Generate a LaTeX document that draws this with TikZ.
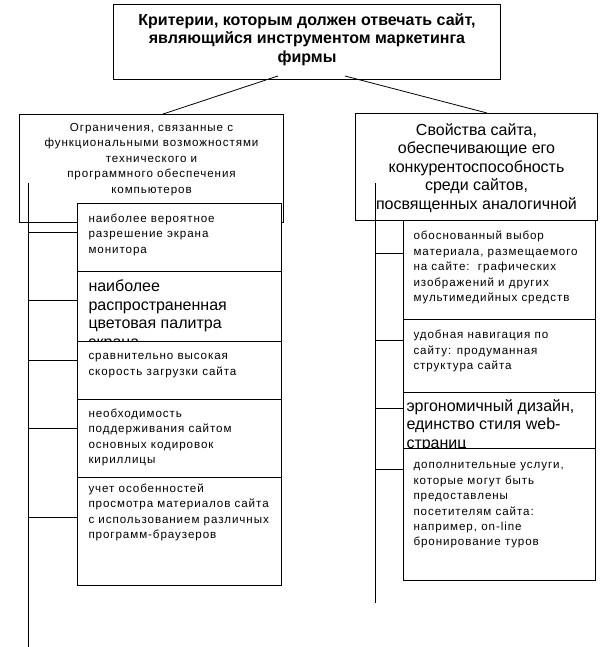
\documentclass[tikz,border=0pt]{standalone}
\usepackage{fontspec}
\setmainfont{Liberation Sans}
\newfontfamily\spacedsans[LetterSpace=8]{Liberation Sans}
\newcommand\fsmall{\spacedsans\fontsize{11.6pt}{15.4pt}\selectfont}
\newcommand\fbig{\fontsize{16pt}{18.4pt}\selectfont}
\newcommand\ftitle{\bfseries\fontsize{16pt}{18.4pt}\selectfont}
% #1 width, #2 height, #3 left pad, #4 first baseline offset, #5 font, #6 text
\newcommand\lcell[6]{\parbox[t][#2pt][t]{#1pt}{#5\raggedright\leftskip=#3pt\relax\rule{0pt}{#4pt}#6\par}}
% #1 width, #2 height, #3 first baseline offset, #4 font, #5 text
\newcommand\ccell[5]{\parbox[t][#2pt][t]{#1pt}{#4\centering\rule{0pt}{#3pt}#5\par}}
\tikzset{
  boxnode/.style={draw, line width=1pt, fill=white, inner sep=0pt, anchor=north west},
  link/.style={line width=1pt},
  thinlink/.style={line width=0.8pt}
}
\begin{document}
\begin{tikzpicture}[x=1pt,y=-1pt]
\useasboundingbox[fill=white] (0,0) rectangle (604,647);

% title and headers
\node[boxnode] (title) at (113,4) {\ccell{387}{75}{21}{\ftitle}{Критерии, которым должен отвечать сайт,\\ являющийся инструментом маркетинга\\ фирмы}};
\node[boxnode] (lh) at (19,114) {\ccell{264}{108}{17}{\fsmall}{Ограничения, связанные с\\ функциональными возможностями\\ технического и\\ программного обеспечения\\ компьютеров}};
\node[boxnode] (rh) at (355,113) {\ccell{242}{107}{22}{\fbig}{Свойства сайта,\\ обеспечивающие его\\ конкурентоспособность\\ среди сайтов,\\ посвященных аналогичной}};

\coordinate (ta) at (278,76);
\coordinate (tb) at (345,76);
\coordinate (la) at (163,114);
\coordinate (ra) at (487,113);
\draw[thinlink] (ta) -- (la);
\draw[thinlink] (tb) -- (ra);

% brackets
\coordinate (lbt) at (28,183);
\coordinate (lbb) at (28,647);
\coordinate (rbt) at (375,183);
\coordinate (rbb) at (375,603);
\draw[link] (lbt) -- (lbb);
\draw[link] (rbt) -- (rbb);

% left items
\node[boxnode] (l1) at (77,203) {\lcell{204}{68}{11}{18.7}{\fsmall}{наиболее вероятное\\ разрешение экрана\\ монитора}};
\node[boxnode] (l2) at (77,271) {\lcell{204}{70}{11}{20.3}{\fbig}{наиболее\\ распространенная\\ цветовая палитра\\ экрана}};
\node[boxnode] (l3) at (77,341) {\lcell{204}{58}{11}{18.3}{\fsmall}{сравнительно высокая\\ скорость загрузки сайта}};
\node[boxnode] (l4) at (77,399) {\lcell{204}{78}{11}{17.7}{\fsmall}{необходимость\\ поддерживания сайтом\\ основных кодировок\\ кириллицы}};
\node[boxnode] (l5) at (77,477) {\lcell{204}{108}{11}{14.7}{\fsmall}{учет особенностей\\ просмотра материалов сайта\\ с использованием различных\\ программ-браузеров}};

\coordinate (lc1) at (28,232);
\coordinate (lc2) at (28,300);
\coordinate (lc3) at (28,360);
\coordinate (lc4) at (28,428);
\coordinate (lc5) at (28,517);
\draw[link] (lc1) -- (lc1 -| l1.west);
\draw[link] (lc2) -- (lc2 -| l2.west);
\draw[link] (lc3) -- (lc3 -| l3.west);
\draw[link] (lc4) -- (lc4 -| l4.west);
\draw[link] (lc5) -- (lc5 -| l5.west);

% right items
\node[boxnode] (r1) at (403,220) {\lcell{192}{99}{10}{19.3}{\fsmall}{обоснованный выбор\\ материала, размещаемого\\ на сайте:\ \ графических\\ изображений и других\\ мультимедийных средств}};
\node[boxnode] (r2) at (403,319) {\lcell{192}{73}{10}{19.3}{\fsmall}{удобная навигация по\\ сайту: продуманная\\ структура сайта}};
\node[boxnode] (r3) at (403,392) {\lcell{192}{56}{3}{19}{\fbig}{эргономичный дизайн,\\ единство стиля web-\\ страниц}};
\node[boxnode] (r4) at (403,448) {\lcell{192}{132}{10}{20.3}{\fsmall}{дополнительные услуги,\\ которые могут быть\\ предоставлены\\ посетителям сайта:\\ например, on-line\\ бронирование туров}};

\coordinate (rc1) at (375,253);
\coordinate (rc2) at (375,340);
\coordinate (rc3) at (375,408);
\coordinate (rc4) at (375,469);
\draw[link] (rc1) -- (rc1 -| r1.west);
\draw[link] (rc2) -- (rc2 -| r2.west);
\draw[link] (rc3) -- (rc3 -| r3.west);
\draw[link] (rc4) -- (rc4 -| r4.west);
\end{tikzpicture}
\end{document}
